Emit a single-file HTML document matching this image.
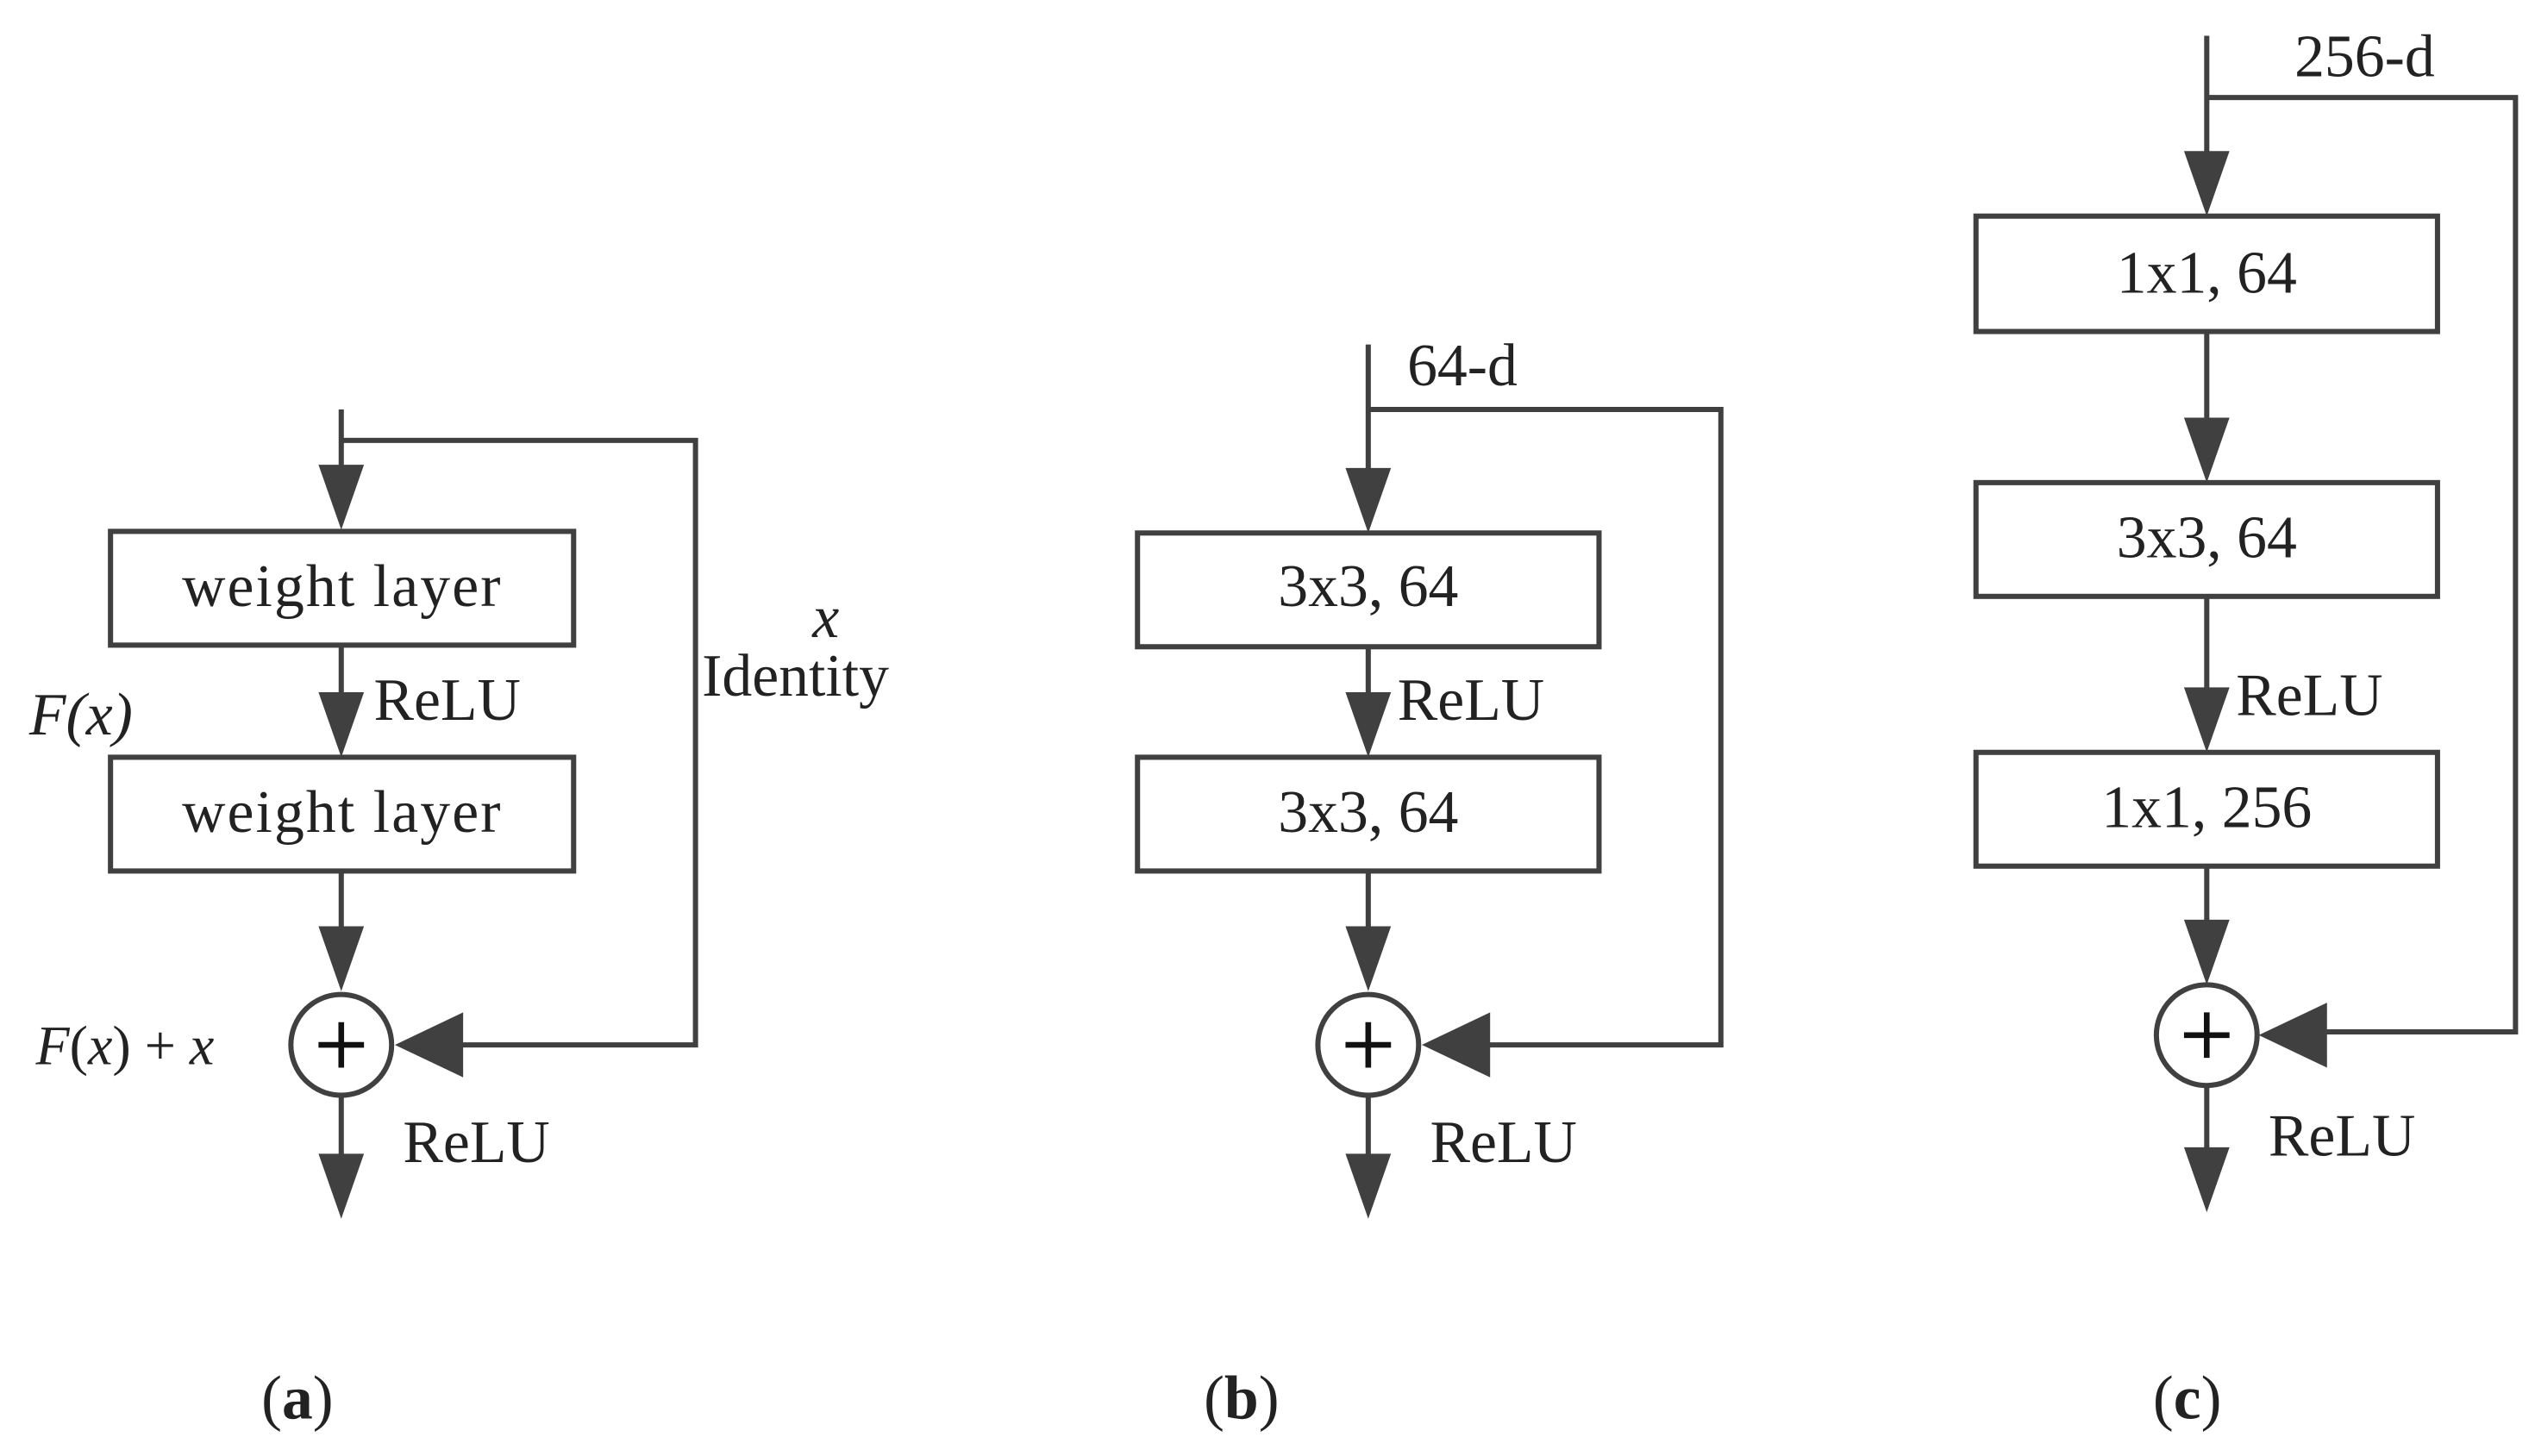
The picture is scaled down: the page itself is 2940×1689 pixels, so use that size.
<!DOCTYPE html>
<html><head><style>html,body{margin:0;padding:0;background:#fff}svg{display:block}</style></head>
<body>
<svg width="2940" height="1689" viewBox="0 0 1560 896" preserveAspectRatio="none" xmlns="http://www.w3.org/2000/svg" font-family="Liberation Serif, serif" fill="#222">
<defs>
<g id="dn"><polygon points="-14,-40 14,-40 0,0" fill="#404040"/></g>
<g id="lf"><polygon points="0,0 42,-20 42,20" fill="#404040"/></g>
</defs>
<g stroke="#404040" stroke-width="3.2" fill="none">
<path d="M210 252 V300 M210 271 H428 V643 H280 M210 397 V440 M210 536 V580 M210 674 V720"/>
<rect x="68" y="327" width="285" height="70" fill="#fff"/>
<rect x="68" y="466" width="285" height="70" fill="#fff"/>
<circle cx="210" cy="643" r="31" fill="#fff"/>
<path d="M842 212 V300 M842 252 H1059 V643 H912 M842 398 V440 M842 536 V580 M842 674 V720"/>
<rect x="700" y="328" width="284" height="70" fill="#fff"/>
<rect x="700" y="466" width="284" height="70" fill="#fff"/>
<circle cx="842" cy="643" r="31" fill="#fff"/>
<path d="M1358 22 V110 M1358 60 H1548 V635 H1428 M1358 204 V270 M1358 367 V436 M1358 533 V580 M1358 668 V716"/>
<rect x="1216" y="133" width="284" height="71" fill="#fff"/>
<rect x="1216" y="297" width="284" height="70" fill="#fff"/>
<rect x="1216" y="463" width="284" height="70" fill="#fff"/>
<circle cx="1358" cy="637" r="31" fill="#fff"/>
<path stroke="#111" stroke-width="3.5" d="M196 643 H224 M210 629 V657 M828 643 H856 M842 629 V657 M1344 637 H1372 M1358 623 V651"/>
</g>
<use href="#dn" x="210" y="326"/><use href="#dn" x="210" y="466"/><use href="#dn" x="210" y="610"/><use href="#dn" x="210" y="750"/>
<use href="#lf" x="243" y="643"/>
<use href="#dn" x="842" y="328"/><use href="#dn" x="842" y="466"/><use href="#dn" x="842" y="610"/><use href="#dn" x="842" y="750"/>
<use href="#lf" x="875" y="643"/>
<use href="#dn" x="1358" y="133"/><use href="#dn" x="1358" y="297"/><use href="#dn" x="1358" y="463"/><use href="#dn" x="1358" y="606"/><use href="#dn" x="1358" y="746"/>
<use href="#lf" x="1390" y="637"/>
<g font-size="37">
<text x="210" y="373" text-anchor="middle" textLength="196">weight layer</text>
<text x="210" y="512" text-anchor="middle" textLength="196">weight layer</text>
<text x="230" y="443">ReLU</text>
<text x="18" y="452" font-style="italic">F(x)</text>
<text x="500" y="392" font-style="italic">x</text>
<text x="432" y="428">Identity</text>
<text x="22" y="655" font-size="34"><tspan font-style="italic">F</tspan>(<tspan font-style="italic">x</tspan>) + <tspan font-style="italic">x</tspan></text>
<text x="248" y="715">ReLU</text>
<text x="866" y="237">64-d</text>
<text x="842" y="373" text-anchor="middle">3x3, 64</text>
<text x="842" y="512" text-anchor="middle">3x3, 64</text>
<text x="860" y="443">ReLU</text>
<text x="880" y="715">ReLU</text>
<text x="1412" y="47">256-d</text>
<text x="1358" y="180" text-anchor="middle">1x1, 64</text>
<text x="1358" y="343" text-anchor="middle">3x3, 64</text>
<text x="1358" y="509" text-anchor="middle">1x1, 256</text>
<text x="1376" y="440">ReLU</text>
<text x="1396" y="711">ReLU</text>
</g>
<g font-size="38" text-anchor="middle">
<text x="183" y="873">(<tspan font-weight="bold">a</tspan>)</text>
<text x="764" y="873">(<tspan font-weight="bold">b</tspan>)</text>
<text x="1346" y="873">(<tspan font-weight="bold">c</tspan>)</text>
</g>
</svg>
</body></html>
